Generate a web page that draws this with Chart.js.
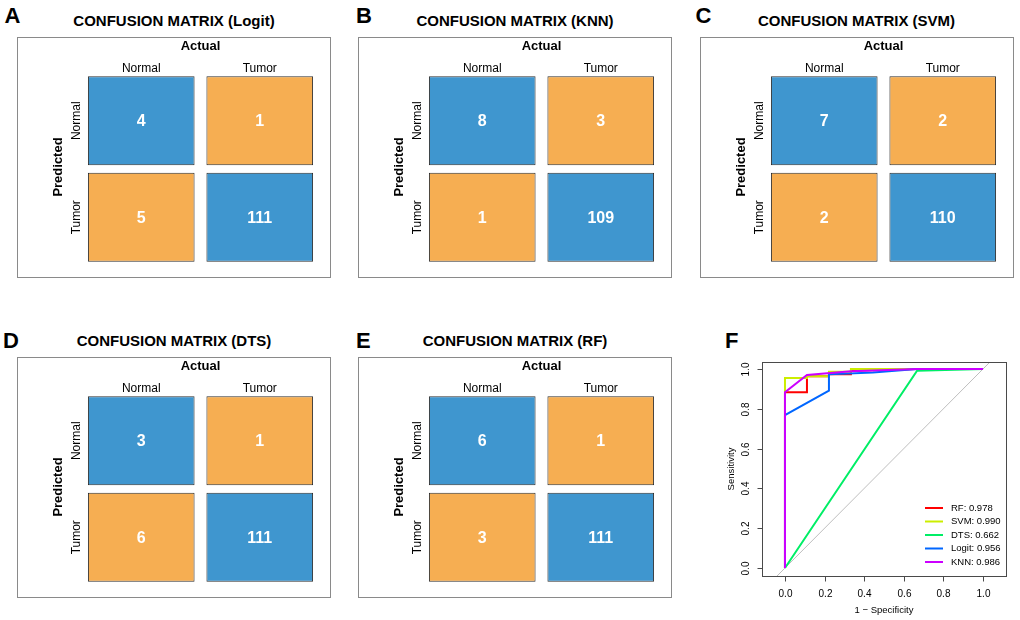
<!DOCTYPE html>
<html><head><meta charset="utf-8">
<script src="https://cdn.jsdelivr.net/npm/chart.js@4.4.0/dist/chart.umd.min.js"></script>
<style>
html,body{margin:0;padding:0;background:#fff;}
body{width:1020px;height:620px;position:relative;overflow:hidden;font-family:"Liberation Sans",Arial,Helvetica,sans-serif;color:#000;}
.letter{position:absolute;font-weight:bold;font-size:22px;line-height:1;}
.title{position:absolute;font-weight:bold;font-size:15px;line-height:1;white-space:nowrap;transform:translate(-50%,-50%);}
canvas{position:absolute;}
</style></head><body>
<script>
// ---------- data ----------
const classes = ['Normal', 'Tumor'];           // rows = Predicted, cols = Actual
const cmLogit = [[4, 1], [5, 111]];
const cmKNN   = [[8, 3], [1, 109]];
const cmSVM   = [[7, 2], [2, 110]];
const cmDTS   = [[3, 1], [6, 111]];
const cmRF    = [[6, 1], [3, 111]];
const cmNames = ['Logit', 'KNN', 'SVM', 'DTS', 'RF'];
const panelLetters = ['A', 'B', 'C', 'D', 'E', 'F'];

const rocModels = ['RF', 'SVM', 'DTS', 'Logit', 'KNN'];
const rocAUC    = [0.978, 0.990, 0.662, 0.956, 0.986];
const rfFPR    = [0, 0, 0.111, 0.111, 0.222, 0.222, 0.333, 0.333, 0.667, 1];
const rfTPR    = [0, 0.883, 0.883, 0.964, 0.964, 0.973, 0.973, 0.991, 1, 1];
const svmFPR   = [0, 0, 0.111, 0.111, 0.222, 0.222, 0.333, 0.333, 1];
const svmTPR   = [0, 0.955, 0.955, 0.964, 0.964, 0.986, 0.986, 1, 1];
const dtsFPR   = [0, 0.667, 1];
const dtsTPR   = [0, 0.991, 1];
const logitFPR = [0, 0, 0.222, 0.222, 0.444, 0.667, 1];
const logitTPR = [0, 0.768, 0.891, 0.973, 0.982, 1, 1];
const knnFPR   = [0, 0, 0.111, 0.333, 0.667, 1];
const knnTPR   = [0, 0.883, 0.970, 0.988, 1, 1];
const refFPR   = [-0.2, 1.2];
const refTPR   = [-0.2, 1.2];
const rocTicks = [0, 0.2, 0.4, 0.6, 0.8, 1.0];

// ---------- styles / layout ----------
const FONT = '"Liberation Sans", Arial, Helvetica, sans-serif';
const BLUE = '#3F96CF', ORANGE = '#F6AE52', CELL_BORDER = '#2e2e2e', BOX = '#8a8a8a';
const rocColors = ['#FF0000', '#CCEE00', '#00EE66', '#0066FF', '#CC00FF'];
const CELL_GAP = 0.04;
const cmLayout = [
  {x: 17, y: 37, lx: 4.5, ly: 4.5, tx: 174, ty: 20},
  {x: 358, y: 37, lx: 356, ly: 4.5, tx: 515, ty: 20},
  {x: 700, y: 37, lx: 695.5, ly: 4.5, tx: 856.5, ty: 20},
  {x: 17, y: 357, lx: 3, ly: 329.5, tx: 174, ty: 340},
  {x: 358, y: 357, lx: 356, ly: 329.5, tx: 515, ty: 340}
];
const rocLayout = {x: 700, y: 320, w: 320, h: 300, lx: 725, ly: 329.5};

function addText(cls, txt, left, top) {
  const d = document.createElement('div');
  d.className = cls; d.textContent = txt;
  d.style.left = left + 'px'; d.style.top = top + 'px';
  document.body.appendChild(d);
}
function addCanvas(x, y, w, h) {
  const c = document.createElement('canvas');
  c.width = w; c.height = h;
  c.style.left = x + 'px'; c.style.top = y + 'px';
  c.style.width = w + 'px'; c.style.height = h + 'px';
  document.body.appendChild(c);
  return c;
}

// ---------- confusion matrices ----------
const cmPlugin = {
  id: 'cmDecor',
  afterDraw(chart) {
    const ctx = chart.ctx, a = chart.chartArea;
    const xs = chart.scales.x, ys = chart.scales.y;
    const matrix = chart.options.plugins.cmDecor.matrix;
    ctx.save();
    // frame
    ctx.strokeStyle = BOX; ctx.lineWidth = 1;
    ctx.strokeRect(0.5, 0.5, chart.width - 1, chart.height - 1);
    ctx.fillStyle = '#000';
    ctx.textAlign = 'center'; ctx.textBaseline = 'middle';
    // Actual
    ctx.font = 'bold 13px ' + FONT;
    ctx.fillText('Actual', (a.left + a.right) / 2, 9.5);
    // column labels
    ctx.font = '12px ' + FONT;
    classes.forEach((c, i) => ctx.fillText(c, xs.getPixelForValue(i), 31.5));
    // Predicted
    ctx.save();
    ctx.translate(41, (a.top + a.bottom) / 2 - 2);
    ctx.rotate(-Math.PI / 2);
    ctx.font = 'bold 13px ' + FONT;
    ctx.fillText('Predicted', 0, 0);
    ctx.restore();
    // row labels
    classes.forEach((c, r) => {
      const yc = ys.getPixelForValue(classes.length - 1 - r + 0.5);
      ctx.save();
      ctx.translate(59.5, yc);
      ctx.rotate(-Math.PI / 2);
      ctx.font = '12px ' + FONT;
      ctx.fillText(c, 0, 0);
      ctx.restore();
    });
    // values
    ctx.fillStyle = '#fff';
    ctx.font = 'bold 16px ' + FONT;
    chart.data.datasets.forEach((ds, r) => {
      chart.getDatasetMeta(r).data.forEach((el, c) => {
        ctx.fillText(String(matrix[r][c]), el.x, (el.y + el.base) / 2 + 1);
      });
    });
    ctx.restore();
  }
};

[cmLogit, cmKNN, cmSVM, cmDTS, cmRF].forEach((m, k) => {
  const L = cmLayout[k];
  addText('letter', panelLetters[k], L.lx, L.ly);
  addText('title', 'CONFUSION MATRIX (' + cmNames[k] + ')', L.tx, L.ty);
  const cv = addCanvas(L.x, L.y, 314, 241);
  const datasets = classes.map((rowName, r) => {
    const base = classes.length - 1 - r;
    return {
      label: rowName,
      data: classes.map(() => [base + CELL_GAP, base + 1 - CELL_GAP]),
      backgroundColor: classes.map((_, c) => (r === c ? BLUE : ORANGE)),
      borderColor: CELL_BORDER,
      borderWidth: 1,
      borderSkipped: false,
      barPercentage: 0.9,
      categoryPercentage: 1.0,
      grouped: false
    };
  });
  new Chart(cv, {
    type: 'bar',
    data: {labels: classes, datasets},
    options: {
      responsive: false, animation: false, devicePixelRatio: 1,
      layout: {padding: {left: 65, right: 12, top: 35.5, bottom: 12.5}},
      scales: {
        x: {display: false},
        y: {display: false, min: 0, max: classes.length}
      },
      plugins: {legend: {display: false}, tooltip: {enabled: false}, cmDecor: {matrix: m}}
    },
    plugins: [cmPlugin]
  });
});

// ---------- ROC ----------
addText('letter', panelLetters[5], rocLayout.lx, rocLayout.ly);
const rocPlugin = {
  id: 'rocDecor',
  afterDraw(chart) {
    const ctx = chart.ctx, a = chart.chartArea;
    const xs = chart.scales.x, ys = chart.scales.y;
    ctx.save();
    ctx.strokeStyle = '#4a4a4a'; ctx.lineWidth = 1;
    ctx.strokeRect(Math.round(a.left) + 0.5, Math.round(a.top) + 0.5,
                   Math.round(a.right - a.left), Math.round(a.bottom - a.top));
    ctx.fillStyle = '#000';
    ctx.font = '10px ' + FONT;
    ctx.textAlign = 'center'; ctx.textBaseline = 'middle';
    const bottom = Math.round(a.bottom) + 0.5, left = Math.round(a.left) + 0.5;
    rocTicks.forEach(v => {
      const px = Math.round(xs.getPixelForValue(v)) + 0.5;
      ctx.beginPath(); ctx.moveTo(px, bottom); ctx.lineTo(px, bottom + 5); ctx.stroke();
      ctx.fillText(v.toFixed(1), px, a.bottom + 18);
      const py = Math.round(ys.getPixelForValue(v)) + 0.5;
      ctx.beginPath(); ctx.moveTo(left - 5, py); ctx.lineTo(left, py); ctx.stroke();
      ctx.save(); ctx.translate(a.left - 16, py); ctx.rotate(-Math.PI / 2);
      ctx.fillText(v.toFixed(1), 0, 0); ctx.restore();
    });
    ctx.font = '9.5px ' + FONT;
    ctx.fillText('1 \u2212 Specificity', (a.left + a.right) / 2, a.bottom + 34.7);
    ctx.save(); ctx.translate(a.left - 31, (a.top + a.bottom) / 2); ctx.rotate(-Math.PI / 2);
    ctx.fillText('Sensitivity', 0, 0); ctx.restore();
    // legend
    ctx.textAlign = 'left';
    rocModels.forEach((mdl, i) => {
      const yy = 188 + 13.5 * i;
      ctx.strokeStyle = rocColors[i]; ctx.lineWidth = 2;
      ctx.beginPath(); ctx.moveTo(225, yy); ctx.lineTo(243, yy); ctx.stroke();
      ctx.fillText(mdl + ': ' + rocAUC[i].toFixed(3), 251, yy);
    });
    ctx.restore();
  }
};
const toPts = (xs, ys) => xs.map((x, i) => ({x, y: ys[i]}));
const rocData = [[rfFPR, rfTPR], [svmFPR, svmTPR], [dtsFPR, dtsTPR], [logitFPR, logitTPR], [knnFPR, knnTPR]];
const rocDatasets = rocModels.map((mdl, i) => ({
  label: mdl,
  data: toPts(rocData[i][0], rocData[i][1]),
  borderColor: rocColors[i], borderWidth: 2, pointRadius: 0, tension: 0, fill: false,
  order: rocModels.length - i
}));
rocDatasets.push({label: 'ref', data: toPts(refFPR, refTPR), borderColor: '#BEBEBE',
  borderWidth: 1, pointRadius: 0, fill: false, order: 99});
const rc = addCanvas(rocLayout.x, rocLayout.y, rocLayout.w, rocLayout.h);
new Chart(rc, {
  type: 'line',
  data: {datasets: rocDatasets},
  options: {
    responsive: false, animation: false, devicePixelRatio: 1,
    layout: {padding: {left: 62, right: 14, top: 42, bottom: 44}},
    scales: {
      x: {type: 'linear', display: false, min: -0.116, max: 1.116},
      y: {type: 'linear', display: false, min: -0.04, max: 1.035}
    },
    plugins: {legend: {display: false}, tooltip: {enabled: false}}
  },
  plugins: [rocPlugin]
});
</script>
</body></html>
